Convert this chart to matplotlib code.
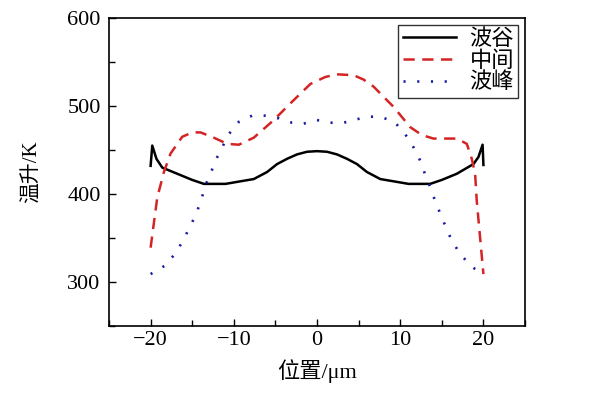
import matplotlib
matplotlib.use('Agg')
import matplotlib.pyplot as plt
from matplotlib.ticker import MultipleLocator

plt.rcParams['font.family'] = ['Liberation Serif', 'Noto Sans CJK SC']
plt.rcParams['axes.unicode_minus'] = True

# 波谷
x_gu = [-20, -19.8, -19.3, -18.6, -16.8, -15.0, -13.6, -11.0, -7.6, -6.0, -4.8, -3.6, -2.4, -1.2, 0,
        1.2, 2.4, 3.6, 4.8, 6.0, 7.6, 11.0, 13.6, 15.0, 16.8, 18.8, 19.4, 19.9, 20]
y_gu = [432, 455, 440, 430, 423, 416, 411.5, 411.5, 417, 425, 434, 440, 445, 448, 448.7,
        448, 445, 440, 434, 425, 417, 411.5, 411.5, 416, 423, 434, 442, 456, 433]

# 中间
x_zj = [-20, -19.2, -18.4, -17.6, -16.2, -15.0, -14.0, -12.4, -10.8, -9.4, -7.6, -5.2, -3.2, -0.8, 1.0,
        2.4, 4.4, 5.6, 6.8, 9.2, 11.2, 12.6, 14.0, 16.8, 18.0, 18.6, 19.0, 19.2, 20]
y_zj = [339, 396, 425, 446, 465, 470, 470, 464, 457, 456, 464, 484, 503, 525, 533,
        536, 535, 530, 522, 499, 476, 467, 463, 463, 457, 440, 423, 392, 309]

# 波峰
x_bf = [-20, -18.2, -16.9, -16.0, -15.2, -14.5, -13.9, -13.4, -12.8, -12.2, -11.4, -10.6, -9.4,
        -7.8, -6.2, -4.6, -3.0, -1.6, 0, 1.6, 3.2, 4.8, 6.4, 7.9, 9.4, 10.6, 11.6, 12.4, 13.0,
        13.6, 14.2, 14.8, 15.5, 16.2, 17.2, 18.5, 19.6]
y_bf = [309, 319, 334, 349, 364, 378, 394, 410, 423, 438, 453, 468, 482,
        489, 489, 486, 481, 480, 484, 481, 481, 485, 488, 487, 481, 468, 453, 438, 422,
        408, 392, 378, 362, 347, 332, 318, 311]

labels = ['波谷', '中间', '波峰']

fig = plt.figure(figsize=(6.1, 3.94), dpi=100)
ax = fig.add_axes([0.1787, 0.1726, 0.682, 0.7817])

ax.plot(x_gu, y_gu, color='black', lw=1.8, label=labels[0])
ax.plot(x_zj, y_zj, color='#d42424', lw=1.8, linestyle=(0, (4.5, 3.0)), label=labels[1])
ax.plot(x_bf, y_bf, color='#1c1ca0', lw=1.9, linestyle=(0, (0.8, 4.4)), label=labels[2])

ax.set_xlim(-25, 25)
ax.set_ylim(250, 600)
ax.xaxis.set_major_locator(MultipleLocator(10))
ax.xaxis.set_minor_locator(MultipleLocator(5))
ax.yaxis.set_major_locator(MultipleLocator(100))
ax.yaxis.set_minor_locator(MultipleLocator(50))
ax.set_yticks([300, 400, 500, 600])
ax.tick_params(which='both', direction='in', top=False, right=False, labelsize=16, width=1.0)
ax.tick_params(which='major', length=5)
ax.tick_params(which='minor', length=4)
ax.tick_params(axis='y', pad=6)
for s in ax.spines.values():
    s.set_linewidth(1.2)

ax.set_xlabel('位置/μm', fontsize=16, labelpad=7)
ax.set_ylabel('温升/K', fontsize=15, labelpad=18)

leg = ax.legend(loc='upper right', fontsize=16, frameon=True, fancybox=False,
                borderaxespad=0.3, handlelength=2.4, labelspacing=0.05,
                borderpad=0.2, handletextpad=0.6)
leg.get_frame().set_edgecolor('black')
leg.get_frame().set_linewidth(1.0)

fig.savefig('out.png', dpi=100)
